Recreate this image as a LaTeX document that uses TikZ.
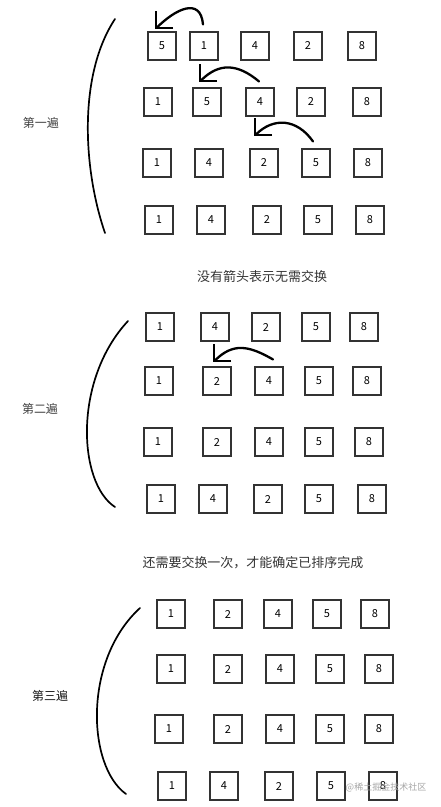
\documentclass[tikz,border=0pt]{standalone}
\usepackage{fontspec}
\newfontfamily\cjk{Noto Sans CJK SC}
\usetikzlibrary{arrows.meta,positioning,calc}

\begin{document}
\begin{tikzpicture}[
  x=1pt, y=1pt,
  numbox/.style = {draw=black!80, line width=1.1pt, minimum size=28pt, inner sep=0pt,
                   font=\cjk\fontsize{11}{11}\selectfont},
  pass/.style = {font=\cjk\fontsize{12}{14}\selectfont, text=black!75},
  note/.style = {font=\cjk\fontsize{13}{15}\selectfont, text=black!80},
  brace/.style = {draw, line width=1.7pt, line cap=round},
  swap/.style = {line width=2.3pt, line cap=round, looseness=1.2,
                 -{Straight Barb[length=12pt, width=24pt, line width=2.3pt]}}
]
\useasboundingbox (0,0) rectangle (441,-807);

% rows of numbers: name / y / list of number/x
\foreach \r/\y/\xs in {
    a1/46/{5/162,1/204,4/255,2/308,8/362},
    a2/102/{1/158,5/207,4/260,2/311,8/367},
    a3/163/{1/157,4/209,2/264,5/316,8/368},
    a4/220/{1/159,4/211,2/267,5/318,8/370},
    b1/327/{1/160,4/215,2/266,5/316,8/364},
    b2/381/{1/159,2/217,4/269,5/319,8/367},
    b3/442/{1/158,2/217,4/269,5/319,8/369},
    b4/499/{1/161,4/213,2/268,5/319,8/372},
    c1/614/{1/171,2/228,4/278,5/327,8/375},
    c2/669/{1/171,2/228,4/280,5/330,8/379},
    c3/729/{1/169,2/228,4/280,5/330,8/379},
    c4/786/{1/172,4/224,2/279,5/331,8/383}}
  \foreach \n/\x [count=\i] in \xs
    \node[numbox] (\r-\i) at (\x,-\y) {\n};

% braces and pass labels
\draw[brace] (115,-19) .. controls (78,-75) and (83,-169) .. (105,-233);
\draw[brace] (128,-321) .. controls (73,-380) and (78,-483) .. (115,-507);
\draw[brace] (140,-608) .. controls (83,-660) and (87,-766) .. (126,-794);

\node[pass] (p1) at (41,-123) {第一遍};
\node[pass] (p2) at (40,-409) {第二遍};
\node[pass, text=black!90] (p3) at (50,-696) {第三遍};

% notes
\node[note] (n1) at (262,-277) {没有箭头表示无需交换};
\node[note] (n2) at (253,-563) {还需要交换一次，才能确定已排序完成};

% swaps
\draw[swap, looseness=1.5] ([xshift=-1pt,yshift=7pt]a1-2.north) to[out=95,in=45] ([xshift=-7pt,yshift=2pt]a1-1.north);
\draw[swap] ([xshift=-1pt,yshift=6pt]a2-3.north) to[out=140,in=45] ([xshift=-8pt,yshift=5pt]a2-2.north);
\draw[swap] ([xshift=-3pt,yshift=7pt]a3-4.north) to[out=125,in=45] ([xshift=-10pt,yshift=12pt]a3-3.north);
\draw[swap] ([xshift=4pt,yshift=7pt]b2-3.north) to[out=150,in=45] ([xshift=-4pt,yshift=4pt]b2-2.north);

% watermark
\node[font=\cjk\fontsize{9}{9}\selectfont, text=black!35] (mark) at (386,-787) {@稀土掘金技术社区};

\end{tikzpicture}
\end{document}
